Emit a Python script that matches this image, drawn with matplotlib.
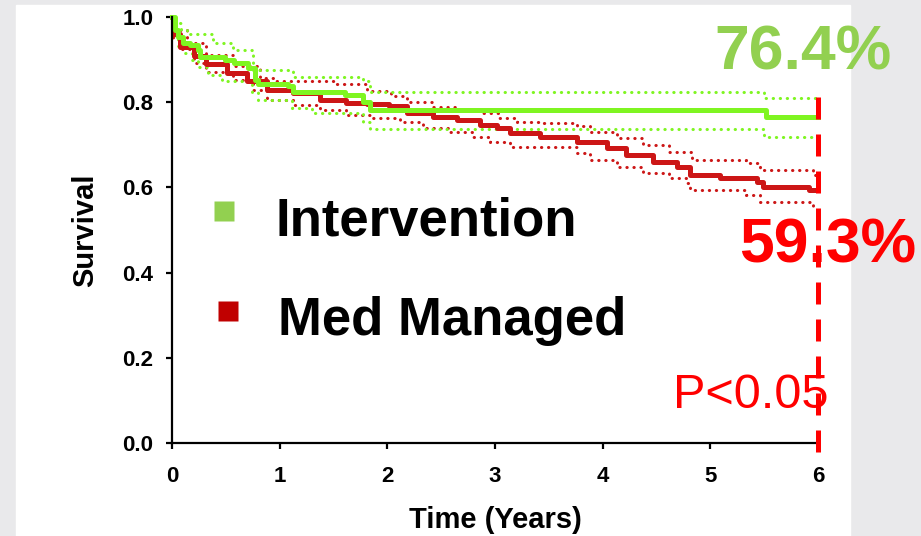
import numpy as np
import matplotlib
matplotlib.use('Agg')
import matplotlib.pyplot as plt
from matplotlib.patches import Rectangle

plt.rcParams['font.family'] = ['Liberation Sans', 'DejaVu Sans']

# Kaplan-Meier step points (time in years, survival)
med_t = [0, 0.01, 0.07, 0.20, 0.32, 0.51, 0.70, 0.88, 1.12, 1.37, 1.62, 1.81, 2.02,
         2.18, 2.42, 2.65, 2.86, 3.02, 3.14, 3.42, 3.76, 4.04, 4.22, 4.47, 4.69,
         4.81, 5.09, 5.43, 5.49, 5.92]
med_s = [1.0, 0.96, 0.93, 0.908, 0.889, 0.869, 0.849, 0.829, 0.822, 0.805, 0.798,
         0.796, 0.792, 0.775, 0.766, 0.758, 0.747, 0.739, 0.728, 0.719, 0.707, 0.693,
         0.677, 0.660, 0.648, 0.629, 0.622, 0.613, 0.601, 0.594]

med_up_t = [0, 0.01, 0.14, 0.32, 0.57, 0.82, 0.94, 1.50, 1.81, 2.03, 2.18, 2.42,
            2.65, 2.86, 3.04, 3.20, 3.45, 3.76, 3.88, 4.13, 4.37, 4.62, 4.83, 5.33,
            5.46, 5.95]
med_up_s = [1.0, 0.97, 0.94, 0.91, 0.885, 0.857, 0.85, 0.843, 0.826, 0.815, 0.80,
            0.789, 0.782, 0.775, 0.763, 0.754, 0.751, 0.743, 0.730, 0.716, 0.700,
            0.684, 0.664, 0.657, 0.641, 0.629]

med_lo_t = [0, 0.01, 0.07, 0.20, 0.32, 0.57, 0.75, 0.88, 1.12, 1.37, 1.62, 1.87,
            2.12, 2.33, 2.58, 2.79, 2.95, 3.14, 3.76, 3.88, 4.13, 4.37, 4.62, 4.78,
            4.81, 5.33, 5.46, 5.95]
med_lo_s = [1.0, 0.95, 0.924, 0.893, 0.872, 0.852, 0.829, 0.806, 0.794, 0.782, 0.770,
            0.762, 0.754, 0.739, 0.730, 0.719, 0.707, 0.695, 0.681, 0.664, 0.648,
            0.634, 0.622, 0.610, 0.594, 0.583, 0.565, 0.554]

int_t = [0, 0.03, 0.06, 0.10, 0.17, 0.24, 0.26, 0.49, 0.58, 0.71, 0.77, 0.80, 1.08,
         1.12, 1.61, 1.77, 1.84, 5.52]
int_s = [1.0, 0.97, 0.952, 0.94, 0.935, 0.923, 0.907, 0.900, 0.892, 0.880, 0.853,
         0.842, 0.837, 0.825, 0.818, 0.800, 0.782, 0.766]

int_up_t = [0, 0.03, 0.08, 0.14, 0.38, 0.57, 0.75, 1.12, 1.77, 1.84, 5.50]
int_up_s = [1.0, 0.985, 0.97, 0.96, 0.94, 0.923, 0.876, 0.859, 0.85, 0.825, 0.81]

int_lo_t = [0, 0.01, 0.03, 0.06, 0.12, 0.19, 0.24, 0.33, 0.46, 0.74, 0.80, 1.11,
            1.30, 1.77, 1.84, 5.50]
int_lo_s = [1.0, 0.96, 0.955, 0.931, 0.916, 0.90, 0.883, 0.865, 0.849, 0.825, 0.806,
            0.786, 0.774, 0.754, 0.737, 0.719]

x_ticks = [0, 1, 2, 3, 4, 5, 6]
y_ticks = [0.0, 0.2, 0.4, 0.6, 0.8, 1.0]
t_end = 6.0

green_line = '#7ff521'
red_line = '#cc1616'
green_label = '#92d050'
red_label = '#ff0000'
red_square = '#c00000'


def steps(t, s):
    return np.append(t, t_end), np.append(s, s[-1])


fig = plt.figure(figsize=(9.21, 5.36), dpi=100, facecolor='#e9e9eb')
fig.patches.append(Rectangle((16 / 921, 0), 834 / 921, 531 / 536,
                             transform=fig.transFigure, color='white', zorder=-10))
ax = fig.add_axes([172 / 921, 93 / 536, 646 / 921, 426 / 536])
ax.set_facecolor('none')

dot = dict(lw=2.2, linestyle=(0, (0.1, 2.2)), dash_capstyle='round',
           drawstyle='steps-post', clip_on=False)
ax.plot(*steps(med_up_t, med_up_s), color=red_line, **dot)
ax.plot(*steps(med_lo_t, med_lo_s), color=red_line, **dot)
ax.plot(*steps(int_up_t, int_up_s), color=green_line, **dot)
ax.plot(*steps(int_lo_t, int_lo_s), color=green_line, **dot)

ax.plot(*steps(med_t, med_s), color=red_line, lw=3.6, drawstyle='steps-post',
        clip_on=False)
ax.plot(*steps(int_t, int_s), color=green_line, lw=3.6, drawstyle='steps-post',
        clip_on=False)

# dashed marker at 6 years
ax.plot([6, 6], [0.813, -0.024], color=red_label, lw=3.6,
        linestyle=(0, (4.4, 3)), clip_on=False, zorder=5)

ax.set_xlim(0, 6)
ax.set_ylim(0, 1.0)
ax.set_xticks(x_ticks)
ax.set_yticks(y_ticks)
ax.set_yticklabels([f'{v:.1f}' for v in y_ticks])
for s in ['top', 'right']:
    ax.spines[s].set_visible(False)
for s in ['left', 'bottom']:
    ax.spines[s].set_linewidth(1.6)
ax.tick_params(direction='out', length=4.5, width=1.6, labelsize=16)
ax.tick_params(axis='x', pad=12)
ax.tick_params(axis='y', pad=9)
for lab in ax.get_xticklabels() + ax.get_yticklabels():
    lab.set_fontweight('bold')

ax.set_xlabel('Time (Years)', fontsize=21, fontweight='bold')
ax.xaxis.set_label_coords(0.5, -0.148)
ax.set_ylabel('Survival', fontsize=21, fontweight='bold')
ax.yaxis.set_label_coords(-0.113, 0.5)

# legend-like labels
ax.plot([0.483], [0.544], 's', ms=14.4, color=green_label, mec='none', clip_on=False)
ax.plot([0.52], [0.31], 's', ms=14.4, color=red_square, mec='none', clip_on=False)
ax.text(0.957, 0.488, 'Intervention', fontsize=38, fontweight='bold',
        va='baseline', ha='left')
ax.text(0.984, 0.253, 'Med Managed', fontsize=38, fontweight='bold',
        va='baseline', ha='left')

ax.text(5.04, 0.876, '76.4%', fontsize=45, fontweight='bold', color=green_label,
        va='baseline', ha='left', clip_on=False)
ax.text(5.27, 0.424, '59.3%', fontsize=45, fontweight='bold', color=red_label,
        va='baseline', ha='left', clip_on=False, zorder=4)
ax.text(4.65, 0.083, 'P<0.05', fontsize=35, color=red_label,
        va='baseline', ha='left', zorder=4)

fig.savefig('out.png', dpi=100, facecolor=fig.get_facecolor())
